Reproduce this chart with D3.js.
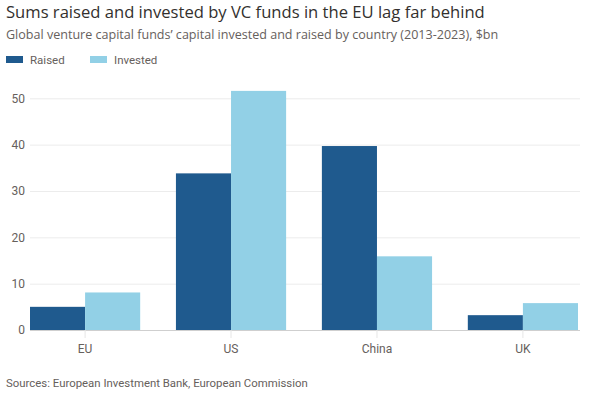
<!DOCTYPE html>
<html>
<head>
<meta charset="utf-8">
<script src="https://cdn.jsdelivr.net/npm/d3@7"></script>
<style>
  body { margin: 0; background: #fff; }
  svg { display: block; font-family: Roboto, "Noto Sans", sans-serif; }
</style>
</head>
<body>
<svg width="591" height="394"></svg>
<script>
// data
const countries = ["EU", "US", "China", "UK"]
const raised = [5.0, 33.8, 39.7, 3.2]
const invested = [8.1, 51.6, 15.9, 5.8]
const seriesNames = ["Raised", "Invested"]
const yTicks = [0, 10, 20, 30, 40, 50]

const width = 591
const height = 394

const svg = d3.select("svg")

const color = d3.scaleOrdinal()
  .domain(seriesNames)
  .range(["#1f5a8e", "#92d0e6"])

const x = d3.scaleBand()
  .domain(countries)
  .range([30, 578])
  .paddingInner(0.245)
  .paddingOuter(0)

const xs = d3.scaleBand()
  .domain(seriesNames)
  .range([0, x.bandwidth()])

const y = d3.scaleLinear()
  .domain([0, 50])
  .range([330, 98.3])

// titles
svg.append("text")
  .attr("x", 6).attr("y", 17.8)
  .attr("font-family", "'Open Sans', Roboto, sans-serif")
  .attr("font-size", 16.6)
  .attr("fill", "#33302e")
  .text("Sums raised and invested by VC funds in the EU lag far behind")

svg.append("text")
  .attr("x", 6).attr("y", 38.5)
  .attr("font-family", "'Open Sans', Roboto, sans-serif")
  .attr("font-size", 12.55)
  .attr("fill", "#66605c")
  .text("Global venture capital funds\u2019 capital invested and raised by country (2013-2023), $bn")

// legend
const legend = svg.append("g")
  .selectAll("g")
  .data(seriesNames)
  .join("g")
    .attr("transform", (d, i) => `translate(${6 + i * 84},0)`)

legend.append("rect")
  .attr("x", 0).attr("y", 56)
  .attr("width", 17).attr("height", 7)
  .attr("fill", d => color(d))

legend.append("text")
  .attr("x", 24).attr("y", 64)
  .attr("font-size", 11.5)
  .attr("fill", "#66605c")
  .text(d => d)

// gridlines + y labels
const yAxis = svg.append("g")
  .attr("transform", "translate(30,0)")
  .call(d3.axisLeft(y).tickValues(yTicks).tickSize(-550).tickPadding(5))

yAxis.select(".domain").remove()
yAxis.selectAll(".tick line")
  .attr("stroke", d => d === 0 ? "#cfcfcf" : "#ececec")
yAxis.selectAll(".tick text")
  .attr("font-size", 12)
  .attr("font-family", "Roboto, 'Noto Sans', sans-serif")
  .attr("fill", "#66605c")

// bars
const rows = countries.map((c, i) => ({country: c, values: [
  {key: "Raised", value: raised[i]},
  {key: "Invested", value: invested[i]}
]}))

svg.append("g")
  .selectAll("g")
  .data(rows)
  .join("g")
    .attr("transform", d => `translate(${x(d.country)},0)`)
  .selectAll("rect")
  .data(d => d.values)
  .join("rect")
    .attr("x", d => xs(d.key))
    .attr("y", d => y(d.value))
    .attr("width", xs.bandwidth())
    .attr("height", d => y(0) - y(d.value))
    .attr("fill", d => color(d.key))

// x axis
const xAxis = svg.append("g")
  .attr("transform", "translate(0,330)")
  .call(d3.axisBottom(x).tickSize(8).tickPadding(6))

xAxis.select(".domain").remove()
xAxis.selectAll(".tick line").attr("stroke", "#e6e6e6")
xAxis.selectAll(".tick text")
  .attr("font-size", 12)
  .attr("font-family", "Roboto, 'Noto Sans', sans-serif")
  .attr("fill", "#66605c")

// source
svg.append("text")
  .attr("x", 6).attr("y", 386.5)
  .attr("font-size", 11.4)
  .attr("fill", "#66605c")
  .text("Sources: European Investment Bank, European Commission")
</script>
</body>
</html>
